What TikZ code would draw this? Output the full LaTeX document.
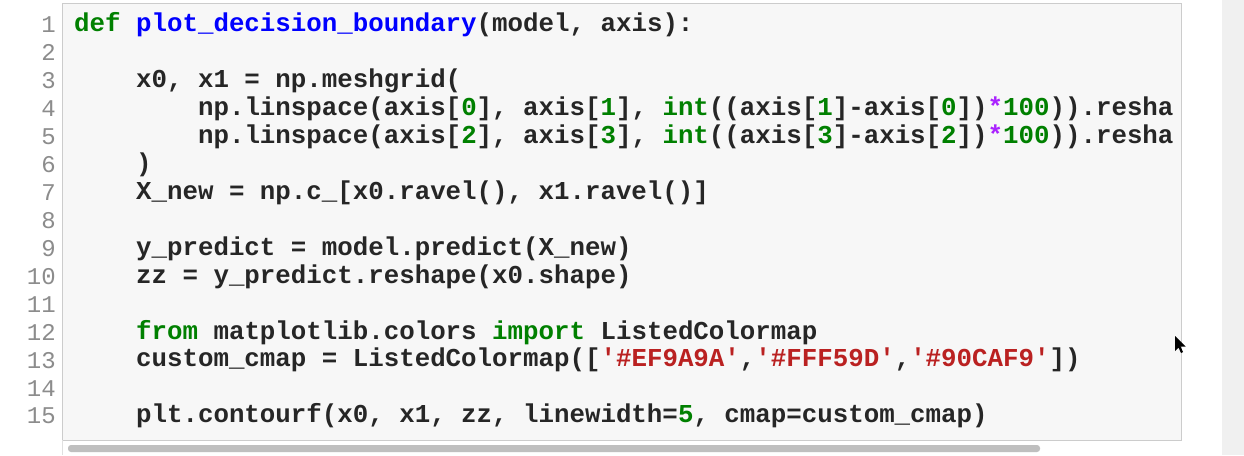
\documentclass[tikz,border=0pt]{standalone}
\usepackage{fontspec}
\setmonofont{Liberation Mono}
\definecolor{kwg}{HTML}{008000}
\definecolor{fnb}{HTML}{0000FF}
\definecolor{strr}{HTML}{BA2121}
\definecolor{oppur}{HTML}{AA22FF}
\definecolor{numg}{HTML}{008000}
\definecolor{cellbg}{HTML}{F7F7F7}
\newcommand\kwc[1]{\textcolor{kwg}{\bfseries #1}}
\newcommand\fnc[1]{\textcolor{fnb}{#1}}
\newcommand\nmc[1]{\textcolor{numg}{#1}}
\newcommand\stc[1]{\textcolor{strr}{#1}}
\newcommand\opc[1]{\textcolor{oppur}{#1}}
\begin{document}
\begin{tikzpicture}[x=1pt,y=-1pt,
  code/.style={anchor=west,inner sep=0pt,font=\ttfamily\bfseries\fontsize{25.8}{28}\selectfont,text=black!85},
  lnum/.style={anchor=east,inner sep=0pt,font=\ttfamily\fontsize{24}{28}\selectfont,text=black!45}]
\useasboundingbox (0,0) rectangle (1244,455);
\fill[white] (0,0) rectangle (1244,455);
\fill[black!6] (1222,0) rectangle (1244,455);
\draw[black!20,fill=cellbg] (62,3) rectangle (1181,440);
\draw[black!12] (62,440) -- (62,455);
\fill[black!25,rounded corners=3pt] (68,445) rectangle (1040,452);
\foreach \i in {1,...,15} {
  \node[lnum] (n\i) at (56,{25+(\i-1)*27.93}) {\i};
}
\node[code] (l1) at (74,25) {\kwc{def} \fnc{plot\_decision\_boundary}(model, axis):};
\node[code] (l3) at (74,{25+2*27.93}) {\ \ \ \ x0, x1 = np.meshgrid(};
\node[code] (l4) at (74,{25+3*27.93}) {\ \ \ \ \ \ \ \ np.linspace(axis[\nmc{0}], axis[\nmc{1}], \kwc{int}((axis[\nmc{1}]-axis[\nmc{0}])\opc{*}\nmc{100})).resha};
\node[code] (l5) at (74,{25+4*27.93}) {\ \ \ \ \ \ \ \ np.linspace(axis[\nmc{2}], axis[\nmc{3}], \kwc{int}((axis[\nmc{3}]-axis[\nmc{2}])\opc{*}\nmc{100})).resha};
\node[code] (l6) at (74,{25+5*27.93}) {\ \ \ \ )};
\node[code] (l7) at (74,{25+6*27.93}) {\ \ \ \ X\_new = np.c\_[x0.ravel(), x1.ravel()]};
\node[code] (l9) at (74,{25+8*27.93}) {\ \ \ \ y\_predict = model.predict(X\_new)};
\node[code] (l10) at (74,{25+9*27.93}) {\ \ \ \ zz = y\_predict.reshape(x0.shape)};
\node[code] (l12) at (74,{25+11*27.93}) {\ \ \ \ \kwc{from} matplotlib.colors \kwc{import} ListedColormap};
\node[code] (l13) at (74,{25+12*27.93}) {\ \ \ \ custom\_cmap = ListedColormap([\stc{'\#EF9A9A'},\stc{'\#FFF59D'},\stc{'\#90CAF9'}])};
\node[code] (l15) at (74,{25+14*27.93}) {\ \ \ \ plt.contourf(x0, x1, zz, linewidth=\nmc{5}, cmap=custom\_cmap)};
\fill[black] (1175,336) -- (1175,351) -- (1178.5,347.5) -- (1181,353) -- (1183,352) -- (1180.5,346.5) -- (1185.5,346.5) -- cycle;
\end{tikzpicture}
\end{document}
